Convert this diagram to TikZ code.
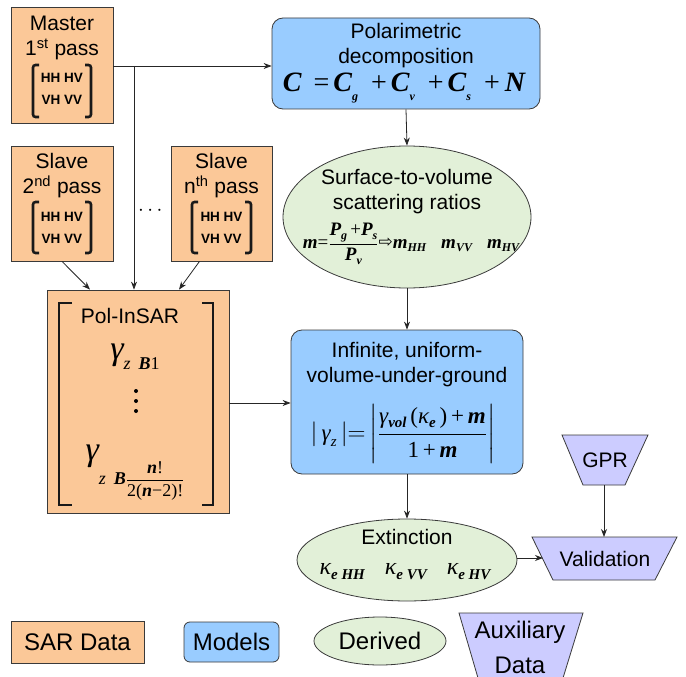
\documentclass[tikz,border=0pt]{standalone}
\usepackage{amsmath}
\usepackage{fontspec}
\setmainfont{Liberation Sans}
\newfontfamily\tms{Liberation Serif}
\newfontfamily\dejavu{DejaVu Sans}
\usetikzlibrary{shapes.geometric,arrows.meta}
\definecolor{sarc}{HTML}{FBC898}
\definecolor{modc}{HTML}{99CCFF}
\definecolor{derc}{HTML}{E2F0D8}
\definecolor{auxc}{HTML}{CCCCFF}
\definecolor{edge}{HTML}{3A3A3A}
\newcommand\BI[1]{{\tms\bfseries\itshape #1}}
\newcommand\TI[1]{{\tms\itshape #1}}
\newcommand\RM[1]{{\tms #1}}
\newcommand\lowtxt[3]{\raisebox{-#1}{\fontsize{#2}{#2}\selectfont #3}}
\newcommand\fs[1]{\fontsize{#1}{#1}\selectfont}
\tikzset{
  sarbox/.style={draw=edge, fill=sarc, line width=0.8pt, inner sep=0pt},
  modbox/.style={draw=edge, fill=modc, line width=0.8pt, rounded corners=11pt, inner sep=0pt},
  derell/.style={ellipse, draw=edge, fill=derc, line width=0.8pt, inner sep=0pt},
  auxshape/.style={draw=edge, fill=auxc, line width=0.8pt},
  conn/.style={-{Stealth[length=8pt,width=6pt]}, line width=0.8pt, draw=black!85},
  txt/.style={font=\fontsize{21}{25}\selectfont, align=center, inner sep=0pt},
  legtxt/.style={font=\fontsize{24}{35}\selectfont, align=center, inner sep=0pt},
  mtx/.style={font=\fontsize{13.5}{22.5}\selectfont\bfseries, align=center, inner sep=0pt},
  brk/.style={line width=2.6pt, draw=black!90, rounded corners=2.5pt},
  bigbrk/.style={line width=2pt, draw=black!90},
  eqn/.style={inner sep=0pt}
}
\begin{document}
\begin{tikzpicture}[x=1pt,y=-1pt]
\useasboundingbox[fill=white] (0,0) rectangle (686,677);

% ---------- SAR data boxes ----------
\node[sarbox, minimum width=102pt, minimum height=116pt] (master) at (62,65) {};
\node[txt] (mastert) at (62,38) {Master\\1\textsuperscript{st} pass};
\node[mtx] (masterm) at (62,89) {HH HV\\VH VV};
\draw[brk] (39,65) -- (33,65) -- (33,117) -- (39,117);
\draw[brk] (85,65) -- (91,65) -- (91,117) -- (85,117);

\node[sarbox, minimum width=102pt, minimum height=115pt] (slavea) at (62,203.5) {};
\node[txt] (slaveat) at (62,176) {Slave\\2\textsuperscript{nd} pass};
\node[mtx] (slaveam) at (62,228) {HH HV\\VH VV};
\draw[brk] (39,202) -- (33,202) -- (33,253) -- (39,253);
\draw[brk] (85,202) -- (91,202) -- (91,253) -- (85,253);

\node[sarbox, minimum width=101pt, minimum height=115pt] (slaven) at (221.5,203.5) {};
\node[txt] (slavent) at (221.5,176) {Slave\\n\textsuperscript{th} pass};
\node[mtx] (slavenm) at (221.5,228) {HH HV\\VH VV};
\draw[brk] (198,202) -- (192,202) -- (192,253) -- (198,253);
\draw[brk] (245,202) -- (251,202) -- (251,253) -- (245,253);

\node[txt] (dots) at (152,211) {$\cdots$};

% ---------- Pol-InSAR ----------
\node[sarbox, minimum width=182pt, minimum height=223pt] (pol) at (138,401.5) {};
\draw[bigbrk] (72,303) -- (59,303) -- (59,505) -- (72,505);
\draw[bigbrk] (202,303) -- (213,303) -- (213,505) -- (202,505);
\node[txt] (polt) at (130,316) {Pol-InSAR};
\node[eqn] (gam1) at (135,357) {\fs{34}\TI{γ}\lowtxt{10pt}{18}{\TI{z}\hspace{8pt}\BI{B}\RM{1}}};
\fill (136,391) circle (2pt) (136,401) circle (2pt) (136,411) circle (2pt);
\node[eqn] (gam2) at (135,473) {\fs{34}\TI{γ}\lowtxt{24pt}{18}{\TI{z}\hspace{8pt}\BI{B}$\dfrac{\mbox{\BI{n}\RM{!}}}{\mbox{\RM{2(}\BI{n}\RM{−2)!}}}$}};

% ---------- Models ----------
\node[modbox, minimum width=268pt, minimum height=91pt] (polar) at (406,63.5) {};
\node[txt] (polart) at (406,46) {Polarimetric\\decomposition};
\node[eqn] (polareq) at (404,88) {\fs{28}\BI{C}\hspace{12pt}\RM{=}\hspace{4pt}\BI{C}\lowtxt{9pt}{12}{\BI{g}}\hspace{13pt}\RM{+}\hspace{4pt}\BI{C}\lowtxt{9pt}{12}{\BI{v}}\hspace{13pt}\RM{+}\hspace{4pt}\BI{C}\lowtxt{9pt}{12}{\BI{s}}\hspace{13pt}\RM{+}\hspace{5pt}\BI{N}};

\node[modbox, minimum width=232pt, minimum height=144pt] (inf) at (407,402) {};
\node[txt] (inft) at (407,365) {Infinite, uniform-\\volume-under-ground};
\node[eqn] (infeq) at (403,434) {\fs{23}$|\,\mbox{\TI{γ}\lowtxt{6pt}{15}{\TI{z}}}\,|{=}\left|\dfrac{\mbox{\TI{γ}\lowtxt{4pt}{15}{\BI{vol}}\,\RM{(}\TI{κ}\lowtxt{4pt}{15}{\BI{e}}\,\RM{)}\,\RM{+}\,\BI{m}}}{\mbox{\RM{1}\,\RM{+}\,\BI{m}}}\right|$};

% ---------- Derived ----------
\node[derell, minimum width=248pt, minimum height=142pt] (surf) at (407,217) {};
\node[txt] (surft) at (407,192) {Surface-to-volume\\scattering ratios};
\node[eqn] (surfeq) at (411,244) {\fs{19}$\mbox{\BI{m}\RM{=}}\dfrac{\mbox{\BI{P}\lowtxt{4pt}{12}{\BI{g}}\,\RM{+}\BI{P}\lowtxt{4pt}{12}{\BI{s}}}}{\mbox{\BI{P}\lowtxt{4pt}{12}{\BI{v}}}}$\raisebox{1pt}{\dejavu\fs{17}⇨}\BI{m}\lowtxt{3pt}{12}{\BI{HH}}\hspace{15pt}\BI{m}\lowtxt{3pt}{12}{\BI{VV}}\hspace{15pt}\BI{m}\lowtxt{3pt}{12}{\BI{HV}}};

\node[derell, minimum width=220pt, minimum height=82pt] (ext) at (407,560) {};
\node[txt] (extt) at (407,537) {Extinction};
\node[eqn] (exteq) at (405,572) {\fs{24}\TI{κ}\lowtxt{5pt}{15}{\BI{e HH}}\hspace{20pt}\TI{κ}\lowtxt{5pt}{15}{\BI{e VV}}\hspace{20pt}\TI{κ}\lowtxt{5pt}{15}{\BI{e HV}}};

% ---------- Auxiliary ----------
\draw[auxshape] (562,435) -- (648,435) -- (625,485) -- (583,485) -- cycle;
\node[txt] (gpr) at (605,460) {GPR};
\draw[auxshape] (532,537) -- (677,537) -- (655,580) -- (553,580) -- cycle;
\node[txt] (val) at (605,559) {Validation};
\coordinate (gprb) at (604,485);
\coordinate (valt) at (604,537);
\coordinate (vall) at (543,558);

% ---------- connectors ----------
\coordinate (split) at (134,66);
\draw[conn] (master.east |- split) -- (split -| polar.west);
\draw[conn] (split) -- (split |- pol.north);
\draw[conn] (slavea.south) -- ([xshift=-48pt]pol.north);
\draw[conn] ([xshift=-22pt]slaven.south) -- ([xshift=41pt]pol.north);
\draw[conn] (pol.east |- 0,403) -- (inf.west |- 0,403);
\draw[conn] (polar.south) -- (surf.north);
\draw[conn] (surf.south) -- (inf.north);
\draw[conn] (inf.south) -- (ext.north);
\draw[conn] (ext.east |- vall) -- (vall);
\draw[conn] (gprb) -- (valt);

% ---------- legend ----------
\node[sarbox, minimum width=133pt, minimum height=42pt] (legsar) at (77.5,642) {};
\node[legtxt] (legsart) at (77.5,642) {SAR Data};
\node[modbox, rounded corners=6pt, minimum width=95pt, minimum height=40pt] (legmod) at (231.5,642) {};
\node[legtxt] (legmodt) at (231.5,642) {Models};
\node[derell, minimum width=132pt, minimum height=48pt] (legder) at (380,641) {};
\node[legtxt] (legdert) at (380,641) {Derived};
\draw[auxshape] (459,613) -- (583,613) -- (563,678) -- (478,678) -- cycle;
\node[legtxt] (legaux) at (520,647) {Auxiliary\\Data};
\end{tikzpicture}
\end{document}
